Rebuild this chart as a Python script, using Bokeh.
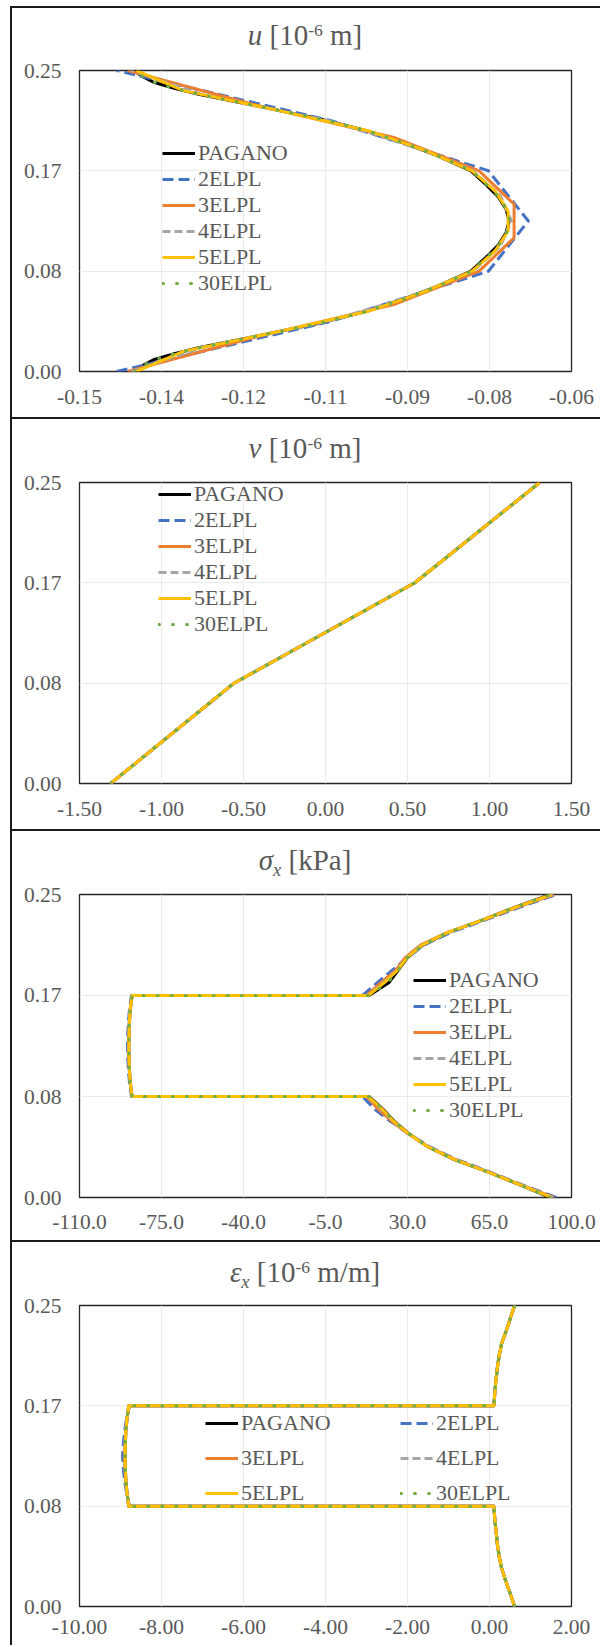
from bokeh.plotting import figure
from bokeh.models import Range1d, FixedTicker, Legend, LegendItem, Spacer, Div
from bokeh.layouts import column, row
from bokeh.embed import file_html
from bokeh.resources import INLINE

# ---------------- data ----------------
SERIES = ["PAGANO", "2ELPL", "3ELPL", "4ELPL", "5ELPL", "30ELPL"]

Z_TICKS = [0.0, 0.0833333, 0.1666667, 0.25]
Z_TICK_LABELS = ["0.00", "0.08", "0.17", "0.25"]

# Panel 1 : u [10-6 m]
U_TICKS = [-0.15, -0.135, -0.12, -0.105, -0.09, -0.075, -0.06]
U_TICK_LABELS = ["-0.15", "-0.14", "-0.12", "-0.11", "-0.09", "-0.08", "-0.06"]
z_u_pagano = [0, 0.005, 0.01, 0.015, 0.02, 0.03, 0.04, 0.05, 0.06, 0.07, 0.0833, 0.095, 0.105, 0.115, 0.125,
              0.135, 0.145, 0.155, 0.1667, 0.18, 0.19, 0.20, 0.21, 0.22, 0.23, 0.235, 0.24, 0.245, 0.25]
u_pagano = [-0.1400, -0.1385, -0.1363, -0.1325, -0.1280, -0.1170, -0.1062, -0.0975, -0.0908, -0.0849, -0.0784,
            -0.0756, -0.0734, -0.0720, -0.0714, -0.0720, -0.0734, -0.0756, -0.0784, -0.0849, -0.0908, -0.0975,
            -0.1062, -0.1170, -0.1280, -0.1325, -0.1363, -0.1385, -0.1400]
z_u_2 = [0, 0.0417, 0.0833, 0.125, 0.1667, 0.2083, 0.25]
u_2 = [-0.1432, -0.1040, -0.0752, -0.0679, -0.0752, -0.1040, -0.1432]
z_u_3 = [0, 0.0278, 0.0556, 0.0833, 0.1111, 0.1389, 0.1667, 0.1944, 0.2222, 0.25]
u_3 = [-0.1412, -0.1185, -0.0925, -0.0769, -0.0705, -0.0705, -0.0769, -0.0925, -0.1185, -0.1412]
z_u_4 = [0, 0.0208, 0.0417, 0.0625, 0.0833, 0.1042, 0.125, 0.1458, 0.1667, 0.1875, 0.2083, 0.2292, 0.25]
u_4 = [-0.1405, -0.1270, -0.1045, -0.0892, -0.0780, -0.0730, -0.0710, -0.0730, -0.0780, -0.0892, -0.1045,
       -0.1270, -0.1405]
z_u_5 = [0, 0.0167, 0.0333, 0.05, 0.0667, 0.0833, 0.1, 0.1167, 0.1333, 0.15, 0.1667, 0.1833, 0.2, 0.2167,
         0.2333, 0.25]
u_5 = [-0.1396, -0.1310, -0.1135, -0.0972, -0.0866, -0.0782, -0.0740, -0.0716, -0.0716, -0.0740, -0.0782,
       -0.0866, -0.0972, -0.1135, -0.1310, -0.1396]
z_u_30 = z_u_pagano
u_30 = [-0.1400, -0.1384, -0.1362, -0.1324, -0.1279, -0.1169, -0.1061, -0.0974, -0.0907, -0.0848, -0.0783,
        -0.0755, -0.0733, -0.0719, -0.0713, -0.0719, -0.0733, -0.0755, -0.0783, -0.0848, -0.0907, -0.0974,
        -0.1061, -0.1169, -0.1279, -0.1324, -0.1362, -0.1384, -0.1400]

# Panel 2 : v [10-6 m]
V_TICKS = [-1.5, -1.0, -0.5, 0.0, 0.5, 1.0, 1.5]
V_TICK_LABELS = ["-1.50", "-1.00", "-0.50", "0.00", "0.50", "1.00", "1.50"]
z_v = [0, 0.0833, 0.1667, 0.25]
v_pagano = [-1.31, -0.558, 0.545, 1.306]
v_2 = [-1.31, -0.558, 0.545, 1.306]
v_3 = [-1.31, -0.558, 0.545, 1.306]
v_4 = [-1.31, -0.558, 0.545, 1.306]
v_5 = [-1.31, -0.558, 0.545, 1.306]
v_30 = [-1.31, -0.558, 0.545, 1.306]

# Panel 3 : sigma_x [kPa]
S_TICKS = [-110.0, -75.0, -40.0, -5.0, 30.0, 65.0, 100.0]
S_TICK_LABELS = ["-110.0", "-75.0", "-40.0", "-5.0", "30.0", "65.0", "100.0"]
z_layers = [0, 0.0104, 0.0208, 0.0313, 0.0417, 0.0521, 0.0625, 0.0729, 0.0833,
            0.0833, 0.0938, 0.1042, 0.1146, 0.125, 0.1354, 0.1458, 0.1563, 0.1667,
            0.1667, 0.1771, 0.1875, 0.1979, 0.2083, 0.2188, 0.2292, 0.2396, 0.25]
s_pagano = [91.0, 78.0, 64.8, 50.0, 38.8, 31.0, 24.5, 19.5, 13.6,
            -87.6, -88.3, -88.7, -88.9, -89.0, -88.9, -88.7, -88.3, -87.6,
            13.6, 22.0, 26.0, 30.0, 36.5, 47.5, 62.5, 76.0, 91.0]
s_2 = [93.5, 79.0, 65.5, 51.0, 39.5, 31.0, 23.0, 16.0, 10.8,
       -87.8, -88.6, -89.1, -89.4, -89.5, -89.4, -89.1, -88.6, -87.8,
       10.8, 17.0, 23.5, 30.0, 37.0, 48.5, 63.5, 78.0, 93.5]
s_3 = [92.5, 78.5, 65.0, 50.5, 39.0, 30.5, 23.5, 17.5, 12.5,
       -87.5, -88.2, -88.6, -88.8, -88.9, -88.8, -88.6, -88.2, -87.5,
       12.5, 18.5, 25.0, 29.0, 35.5, 47.0, 62.5, 77.0, 92.5]
s_4 = [92.0, 78.2, 64.9, 50.2, 38.9, 30.8, 24.0, 18.8, 13.0,
       -87.6, -88.3, -88.7, -88.9, -89.0, -88.9, -88.7, -88.3, -87.6,
       13.0, 19.5, 25.5, 29.5, 36.0, 47.2, 62.5, 76.5, 92.0]
s_5 = [91.5, 78.1, 64.8, 50.1, 38.8, 30.9, 24.3, 19.2, 13.3,
       -87.6, -88.3, -88.7, -88.9, -89.0, -88.9, -88.7, -88.3, -87.6,
       13.3, 20.0, 25.8, 29.8, 36.2, 47.3, 62.5, 76.2, 91.5]
s_30 = [91.0, 78.0, 64.8, 50.0, 38.8, 31.0, 24.5, 19.5, 13.6,
        -87.6, -88.3, -88.7, -88.9, -89.0, -88.9, -88.7, -88.3, -87.6,
        13.6, 21.5, 26.0, 30.0, 36.5, 47.5, 62.5, 76.0, 91.0]

# Panel 4 : epsilon_x [10-6 m/m]
E_TICKS = [-10.0, -8.0, -6.0, -4.0, -2.0, 0.0, 2.0]
E_TICK_LABELS = ["-10.00", "-8.00", "-6.00", "-4.00", "-2.00", "0.00", "2.00"]
e_pagano = [0.61, 0.51, 0.40, 0.30, 0.235, 0.19, 0.16, 0.13, 0.106,
            -8.80, -8.84, -8.87, -8.88, -8.89, -8.88, -8.87, -8.84, -8.80,
            0.106, 0.13, 0.155, 0.19, 0.235, 0.30, 0.41, 0.51, 0.61]
e_2 = [0.62, 0.51, 0.40, 0.30, 0.235, 0.19, 0.16, 0.125, 0.10,
       -8.78, -8.85, -8.90, -8.93, -8.95, -8.93, -8.90, -8.85, -8.78,
       0.10, 0.125, 0.155, 0.19, 0.235, 0.30, 0.41, 0.51, 0.62]
e_3 = [0.615, 0.51, 0.40, 0.30, 0.235, 0.19, 0.16, 0.128, 0.104,
       -8.79, -8.84, -8.87, -8.89, -8.90, -8.89, -8.87, -8.84, -8.79,
       0.104, 0.128, 0.155, 0.19, 0.235, 0.30, 0.41, 0.51, 0.615]
e_4 = [0.61, 0.51, 0.40, 0.30, 0.235, 0.19, 0.16, 0.13, 0.105,
       -8.80, -8.84, -8.87, -8.89, -8.89, -8.89, -8.87, -8.84, -8.80,
       0.105, 0.13, 0.155, 0.19, 0.235, 0.30, 0.41, 0.51, 0.61]
e_5 = [0.61, 0.51, 0.40, 0.30, 0.235, 0.19, 0.16, 0.13, 0.106,
       -8.80, -8.84, -8.87, -8.88, -8.89, -8.88, -8.87, -8.84, -8.80,
       0.106, 0.13, 0.155, 0.19, 0.235, 0.30, 0.41, 0.51, 0.61]
e_30 = [0.61, 0.51, 0.40, 0.30, 0.235, 0.19, 0.16, 0.13, 0.106,
        -8.80, -8.84, -8.87, -8.88, -8.89, -8.88, -8.87, -8.84, -8.80,
        0.106, 0.13, 0.155, 0.19, 0.235, 0.30, 0.41, 0.51, 0.61]

# ---------------- styles ----------------
FONT = "Liberation Serif"
GRAY_TXT = "#595959"
W = 590
STYLE = {
    "PAGANO": dict(line_color="#000000", line_width=3),
    "2ELPL": dict(line_color="#4472C4", line_width=3, line_dash="11 5"),
    "3ELPL": dict(line_color="#ED7D31", line_width=3),
    "4ELPL": dict(line_color="#A5A5A5", line_width=3, line_dash="8 4"),
    "5ELPL": dict(line_color="#FFC000", line_width=3),
    "30ELPL": dict(line_color="#70AD47", line_width=3, line_dash="1 13", line_cap="round"),
}

SUP = '<span style="font-size:17.5px;position:relative;top:-9px;">-6</span>'
SUB = '<span style="font-size:18.5px;font-style:italic;position:relative;top:6px;">x</span>'


def title_strip(height, html, pad_top):
    inner = ('<div style="font-family:\'Liberation Serif\',serif;font-size:29px;line-height:29px;'
             'color:%s;white-space:nowrap;text-align:center;width:580px;padding-left:10px;'
             'padding-top:%.1fpx;margin:0;">%s</div>' % (GRAY_TXT, pad_top, html))
    return Div(text=inner, width=W, height=height, margin=(0, 0, 0, 0),
               styles={"box-shadow": "inset 2px 2px 0 0 #1a1a1a", "overflow": "visible"})


def make_panel(height, borders, xr, xticks, xlabels, series, legend_specs, x_standoff):
    mbl, mbr, mbt, mbb = borders
    p = figure(width=W, height=height, x_range=Range1d(*xr), y_range=Range1d(0, 0.25),
               output_backend="svg", toolbar_location=None, title=None,
               min_border_left=mbl, min_border_right=mbr, min_border_top=mbt, min_border_bottom=mbb)
    p.background_fill_color = "white"
    p.border_fill_color = None
    p.outline_line_color = "#262626"
    p.outline_line_width = 1.3
    p.styles = {"box-shadow": "inset 2px 0 0 0 #1a1a1a"}

    p.xaxis.ticker = FixedTicker(ticks=xticks)
    p.xaxis.major_label_overrides = {t: l for t, l in zip(xticks, xlabels)}
    p.yaxis.ticker = FixedTicker(ticks=Z_TICKS)
    p.yaxis.major_label_overrides = {t: l for t, l in zip(Z_TICKS, Z_TICK_LABELS)}
    for ax in (p.xaxis, p.yaxis):
        ax.axis_line_color = None
        ax.major_tick_line_color = None
        ax.minor_tick_line_color = None
        ax.major_tick_out = 0
        ax.major_tick_in = 0
        ax.major_label_text_font = FONT
        ax.major_label_text_font_size = "21.5px"
        ax.major_label_text_color = GRAY_TXT
    p.xaxis.major_label_standoff = x_standoff
    p.yaxis.major_label_standoff = 18
    p.xgrid.grid_line_color = "#EBEBEB"
    p.ygrid.grid_line_color = "#EBEBEB"

    rends = {}
    for name, (xs, zs) in series.items():
        rends[name] = p.line(xs, zs, line_join="round", **STYLE[name])

    for names, (lx, ly), spacing in legend_specs:
        leg = Legend(items=[LegendItem(label=n, renderers=[rends[n]]) for n in names],
                     location=(lx, ly), orientation="vertical", glyph_width=33, glyph_height=20,
                     label_standoff=3, spacing=spacing, padding=0, margin=0,
                     border_line_color=None, background_fill_alpha=0,
                     label_text_font=FONT, label_text_font_size="22px", label_text_color=GRAY_TXT,
                     label_text_line_height=1.1, label_height=20)
        p.add_layout(leg)
    return p


# panel 1
t1 = title_strip(50, "<i>u</i> [10" + SUP + " m]", 15.1)
p1 = make_panel(361, (68, 25, 14, 46), (-0.15, -0.06), U_TICKS, U_TICK_LABELS,
                {"PAGANO": (u_pagano, z_u_pagano), "2ELPL": (u_2, z_u_2), "3ELPL": (u_3, z_u_3),
                 "4ELPL": (u_4, z_u_4), "5ELPL": (u_5, z_u_5), "30ELPL": (u_30, z_u_30)},
                [(SERIES, (83, 75), 0)], 18)

# panel 2
t2 = title_strip(51, "<i>v</i> [10" + SUP + " m]", 17.4)
p2 = make_panel(361, (67, 21, 14, 46), (-1.5, 1.5), V_TICKS, V_TICK_LABELS,
                {"PAGANO": (v_pagano, z_v), "2ELPL": (v_2, z_v), "3ELPL": (v_3, z_v),
                 "4ELPL": (v_4, z_v), "5ELPL": (v_5, z_v), "30ELPL": (v_30, z_v)},
                [(SERIES, (79, 146), 0)], 18)

# panel 3
t3 = title_strip(51, "<i>σ</i>" + SUB + " [kPa]", 17.0)
p3 = make_panel(360, (69, 29, 14, 43), (-110, 100), S_TICKS, S_TICK_LABELS,
                {"PAGANO": (s_pagano, z_layers), "2ELPL": (s_2, z_layers), "3ELPL": (s_3, z_layers),
                 "4ELPL": (s_4, z_layers), "5ELPL": (s_5, z_layers), "30ELPL": (s_30, z_layers)},
                [(SERIES, (334, 74), 0)], 17)

# panel 4
t4 = title_strip(51, "<i>ε</i>" + SUB + " [10" + SUP + " m/m]", 17.7)
p4 = make_panel(354, (69, 23, 14, 39), (-10, 2), E_TICKS, E_TICK_LABELS,
                {"PAGANO": (e_pagano, z_layers), "2ELPL": (e_2, z_layers), "3ELPL": (e_3, z_layers),
                 "4ELPL": (e_4, z_layers), "5ELPL": (e_5, z_layers), "30ELPL": (e_30, z_layers)},
                [(["PAGANO", "3ELPL", "5ELPL"], (126, 100), 9),
                 (["2ELPL", "4ELPL", "30ELPL"], (321, 100), 9)], 13)

stack = column(Spacer(width=W, height=6), t1, p1, t2, p2, t3, p3, t4, p4, spacing=0)
layout = row(Spacer(width=10, height=10), stack, spacing=0)
open("out.html", "w").write(file_html(layout, INLINE))
